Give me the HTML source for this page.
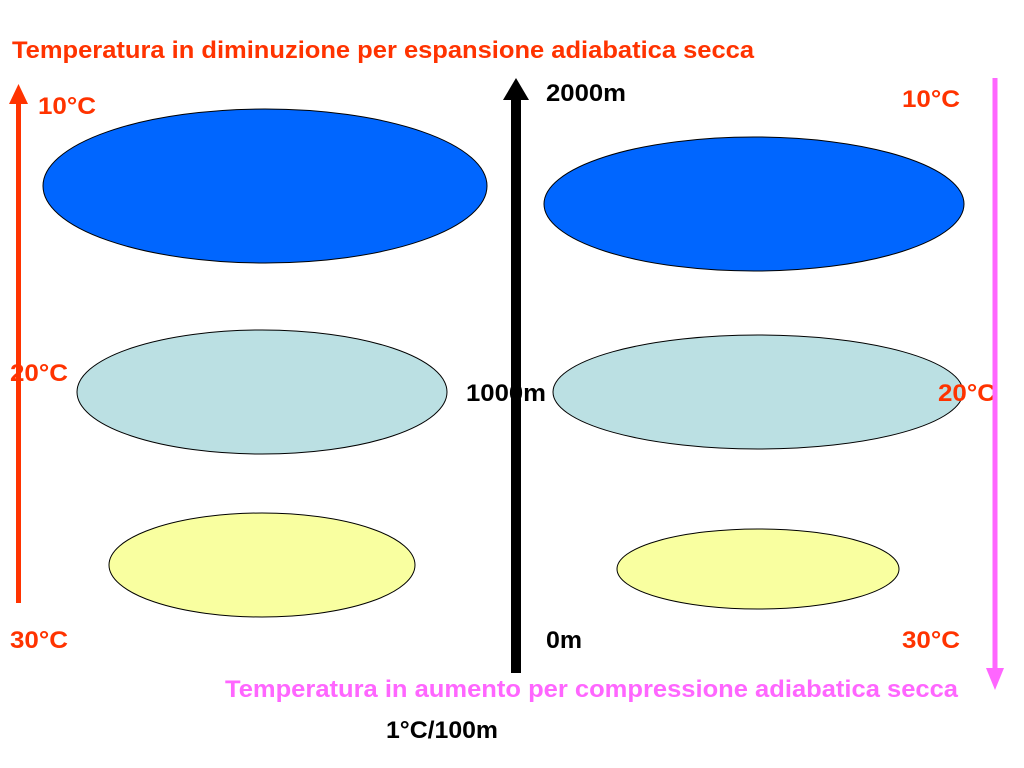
<!DOCTYPE html>
<html><head><meta charset="utf-8"><style>
html,body{margin:0;padding:0;background:#fff;}
svg{display:block;}
text{font-family:"Liberation Sans",Arial,sans-serif;font-weight:bold;font-size:24px;}
</style></head><body>
<svg width="1024" height="768" viewBox="0 0 1024 768">
<text x="12" y="58" fill="#ff3300" textLength="742" lengthAdjust="spacingAndGlyphs">Temperatura in diminuzione per espansione adiabatica secca</text>
<g>
<rect x="16" y="100" width="5" height="503" fill="#ff3300"/>
<polygon points="18.5,84 9,104 28,104" fill="#ff3300"/>
</g>
<ellipse cx="265" cy="186" rx="222" ry="77" fill="#0066ff" stroke="#000" stroke-width="1"/>
<ellipse cx="262" cy="392" rx="185" ry="62" fill="#bbe0e3" stroke="#000" stroke-width="1"/>
<ellipse cx="262" cy="565" rx="153" ry="52" fill="#f9ffa0" stroke="#000" stroke-width="1"/>
<ellipse cx="754" cy="204" rx="210" ry="67" fill="#0066ff" stroke="#000" stroke-width="1"/>
<ellipse cx="758" cy="392" rx="205" ry="57" fill="#bbe0e3" stroke="#000" stroke-width="1"/>
<ellipse cx="758" cy="569" rx="141" ry="40" fill="#f9ffa0" stroke="#000" stroke-width="1"/>
<text x="38" y="114" fill="#ff3300" textLength="58" lengthAdjust="spacingAndGlyphs">10°C</text>
<text x="10" y="381" fill="#ff3300" textLength="58" lengthAdjust="spacingAndGlyphs">20°C</text>
<text x="10" y="648" fill="#ff3300" textLength="58" lengthAdjust="spacingAndGlyphs">30°C</text>
<text x="902" y="107" fill="#ff3300" textLength="58" lengthAdjust="spacingAndGlyphs">10°C</text>
<text x="938" y="401" fill="#ff3300" textLength="58" lengthAdjust="spacingAndGlyphs">20°C</text>
<text x="902" y="648" fill="#ff3300" textLength="58" lengthAdjust="spacingAndGlyphs">30°C</text>
<text x="546" y="101" fill="#000" textLength="80" lengthAdjust="spacingAndGlyphs">2000m</text>
<text x="466" y="401" fill="#000" textLength="80" lengthAdjust="spacingAndGlyphs">1000m</text>
<text x="546" y="648" fill="#000" textLength="36" lengthAdjust="spacingAndGlyphs">0m</text>
<g>
<rect x="511" y="98" width="10" height="575" fill="#000"/>
<polygon points="516,78 503,100 529,100" fill="#000"/>
</g>
<g>
<rect x="992.5" y="78" width="5" height="592" fill="#ff66ff"/>
<polygon points="995,690 986,668 1004,668" fill="#ff66ff"/>
</g>
<text x="225" y="697" fill="#ff66ff" textLength="733" lengthAdjust="spacingAndGlyphs">Temperatura in aumento per compressione adiabatica secca</text>
<text x="386" y="738" fill="#000" textLength="112" lengthAdjust="spacingAndGlyphs">1°C/100m</text>
</svg>
</body></html>
